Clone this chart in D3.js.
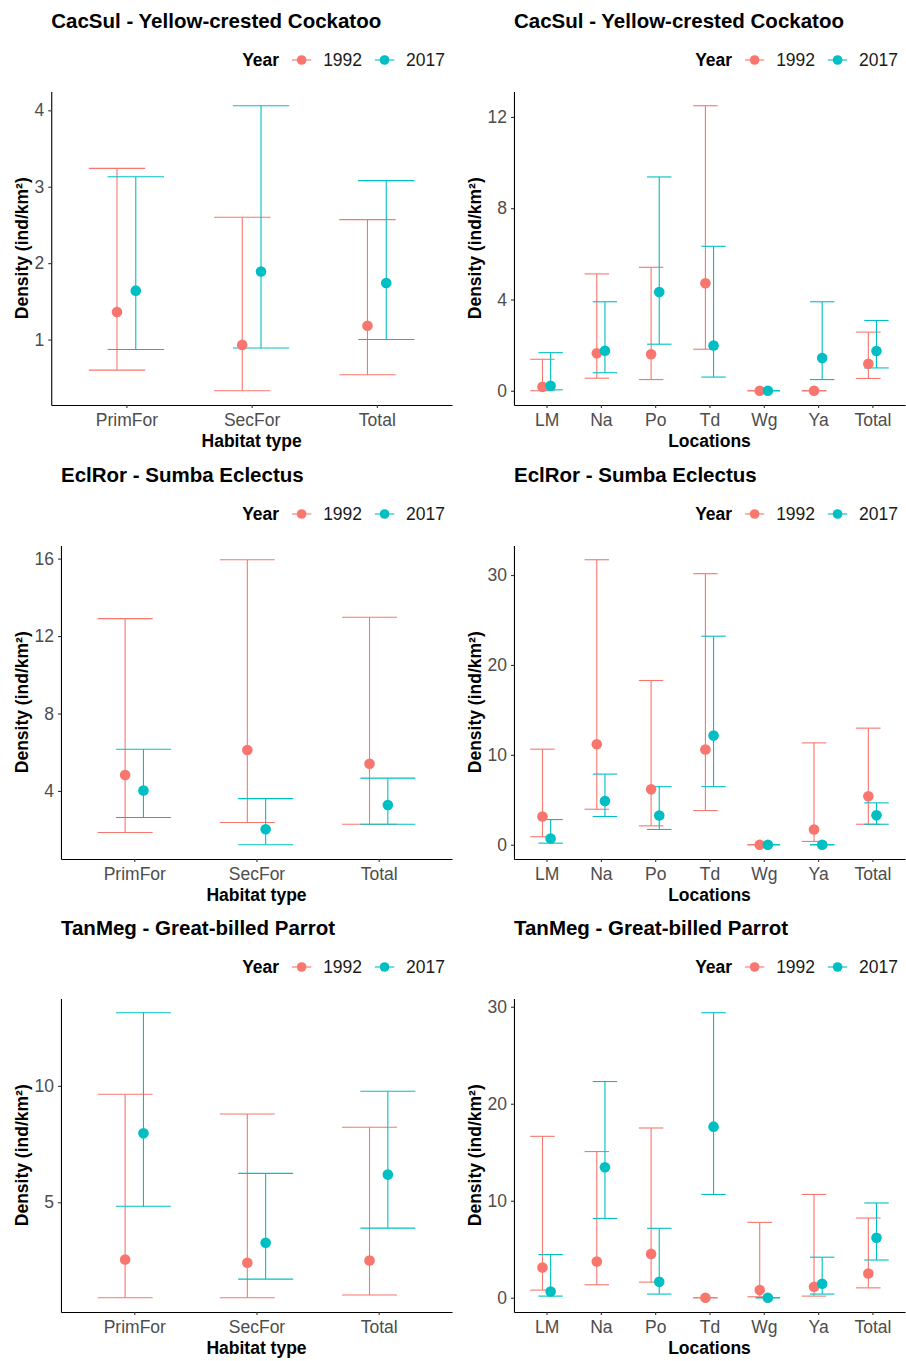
<!DOCTYPE html>
<html>
<head>
<meta charset="utf-8">
<script src="https://cdn.jsdelivr.net/npm/d3@7"></script>
<style>
  body { margin: 0; background: #fff; }
  svg { display: block; }
  text { font-family: "Liberation Sans", Arial, sans-serif; }
</style>
</head>
<body>
<svg id="chart" width="906" height="1361"></svg>
<script>
// ---- Categories -------------------------------------------------------
const habitats  = ["PrimFor", "SecFor", "Total"];
const locations = ["LM", "Na", "Po", "Td", "Wg", "Ya", "Total"];
const years     = ["1992", "2017"];
const yearColors = ["#F8766D", "#00BFC4"];

// ---- CacSul - Yellow-crested Cockatoo ---------------------------------
const cacHabEst92 = [1.36, 0.93, 1.18];
const cacHabLo92  = [0.60, 0.33, 0.54];
const cacHabHi92  = [3.24, 2.60, 2.57];
const cacHabEst17 = [1.64, 1.89, 1.74];
const cacHabLo17  = [0.87, 0.89, 1.00];
const cacHabHi17  = [3.13, 4.06, 3.08];
const cacHabTicks = [1, 2, 3, 4];

const cacLocEst92 = [0.17, 1.64, 1.60, 4.71, 0, 0, 1.18];
const cacLocLo92  = [0.00, 0.55, 0.49, 1.82, 0, 0, 0.54];
const cacLocHi92  = [1.38, 5.12, 5.41, 12.49, 0, 0, 2.57];
const cacLocEst17 = [0.22, 1.75, 4.33, 1.98, 0, 1.43, 1.74];
const cacLocLo17  = [0.04, 0.79, 2.04, 0.60, 0, 0.49, 1.00];
const cacLocHi17  = [1.67, 3.90, 9.37, 6.33, 0, 3.90, 3.08];
const cacLocTicks = [0, 4, 8, 12];

// ---- EclRor - Sumba Eclectus ------------------------------------------
const eclHabEst92 = [4.82, 6.11, 5.40];
const eclHabLo92  = [1.85, 2.37, 2.28];
const eclHabHi92  = [12.90, 15.94, 12.97];
const eclHabEst17 = [4.02, 2.02, 3.27];
const eclHabLo17  = [2.63, 1.22, 2.28];
const eclHabHi17  = [6.15, 3.60, 4.66];
const eclHabTicks = [4, 8, 12, 16];

const eclLocEst92 = [3.14, 11.18, 6.16, 10.59, 0, 1.70, 5.40];
const eclLocLo92  = [0.89, 3.95, 2.10, 3.80, 0, 0.37, 2.28];
const eclLocHi92  = [10.63, 31.70, 18.27, 30.15, 0, 11.33, 12.97];
const eclLocEst17 = [0.70, 4.87, 3.25, 12.14, 0, 0, 3.27];
const eclLocLo17  = [0.18, 3.14, 1.70, 6.46, 0, 0, 2.28];
const eclLocHi17  = [2.80, 7.86, 6.46, 23.20, 0, 0, 4.66];
const eclLocTicks = [0, 10, 20, 30];

// ---- TanMeg - Great-billed Parrot -------------------------------------
const tanHabEst92 = [2.54, 2.40, 2.50];
const tanHabLo92  = [0.90, 0.90, 1.02];
const tanHabHi92  = [9.64, 8.79, 8.22];
const tanHabEst17 = [7.96, 3.26, 6.19];
const tanHabLo17  = [4.83, 1.70, 3.89];
const tanHabHi17  = [13.14, 6.24, 9.77];
const tanHabTicks = [5, 10];

const tanLocEst92 = [3.12, 3.73, 4.52, 0, 0.79, 1.13, 2.50];
const tanLocLo92  = [0.79, 1.34, 1.61, 0, 0.10, 0.17, 1.02];
const tanLocHi92  = [16.64, 15.07, 17.50, 0, 7.77, 10.65, 8.22];
const tanLocEst17 = [0.65, 13.46, 1.64, 17.64, 0, 1.44, 6.19];
const tanLocLo17  = [0.17, 8.18, 0.38, 10.65, 0, 0.38, 3.89];
const tanLocHi17  = [4.45, 22.29, 7.16, 29.38, 0, 4.18, 9.77];
const tanLocTicks = [0, 10, 20, 30];

// ---- Panel layout -----------------------------------------------------
const colX = [0, 453];
const rowY = [0, 454, 907];
const yTitle = "Density (ind/km²)";

const panels = [
  { col: 0, row: 0, title: "CacSul - Yellow-crested Cockatoo", cats: habitats, xTitle: "Habitat type", ticks: cacHabTicks,
    series: [[cacHabEst92, cacHabLo92, cacHabHi92], [cacHabEst17, cacHabLo17, cacHabHi17]] },
  { col: 1, row: 0, title: "CacSul - Yellow-crested Cockatoo", cats: locations, xTitle: "Locations", ticks: cacLocTicks,
    series: [[cacLocEst92, cacLocLo92, cacLocHi92], [cacLocEst17, cacLocLo17, cacLocHi17]] },
  { col: 0, row: 1, title: "EclRor - Sumba Eclectus", cats: habitats, xTitle: "Habitat type", ticks: eclHabTicks,
    series: [[eclHabEst92, eclHabLo92, eclHabHi92], [eclHabEst17, eclHabLo17, eclHabHi17]] },
  { col: 1, row: 1, title: "EclRor - Sumba Eclectus", cats: locations, xTitle: "Locations", ticks: eclLocTicks,
    series: [[eclLocEst92, eclLocLo92, eclLocHi92], [eclLocEst17, eclLocLo17, eclLocHi17]] },
  { col: 0, row: 2, title: "TanMeg - Great-billed Parrot", cats: habitats, xTitle: "Habitat type", ticks: tanHabTicks,
    series: [[tanHabEst92, tanHabLo92, tanHabHi92], [tanHabEst17, tanHabLo17, tanHabHi17]] },
  { col: 1, row: 2, title: "TanMeg - Great-billed Parrot", cats: locations, xTitle: "Locations", ticks: tanLocTicks,
    series: [[tanLocEst92, tanLocLo92, tanLocHi92], [tanLocEst17, tanLocLo17, tanLocHi17]] }
];

const svg = d3.select("#chart");
const FS = 17.5;          // axis / legend text size
const TITLE_FS = 20.5;    // panel title size
const DODGE = 0.075;      // half of the dodge offset, in category steps
const CAP = 0.45;         // error-bar cap width, in category steps
const fmt = d => String(d);

function textWidth(str, size, weight) {
  const t = svg.append("text").attr("font-size", size).attr("font-weight", weight || "normal").text(str);
  const w = t.node().getComputedTextLength();
  t.remove();
  return w;
}

panels.forEach(p => {
  const cx = colX[p.col], cy = rowY[p.row];
  const g = svg.append("g").attr("transform", `translate(${cx},${cy})`);

  const maxTickW = d3.max(p.ticks, t => textWidth(fmt(t), FS));
  const left = 34.5 + maxTickW + 7;
  const right = 452;
  const top = 91.5, bottom = 405;

  // y domain: full data range plus 5% on each side
  const all = p.series.flatMap(s => s.flat());
  const lo = d3.min(all), hi = d3.max(all);
  const pad = (hi - lo) * 0.05;
  const y = d3.scaleLinear().domain([lo - pad, hi + pad]).range([bottom, top]);
  const x = d3.scalePoint().domain(p.cats).range([left, right]).padding(0.6);
  const step = x.step();

  // Title
  g.append("text").attr("x", left).attr("y", 28)
    .attr("font-size", TITLE_FS).attr("font-weight", "bold").attr("fill", "#000")
    .text(p.title);

  // Legend, right aligned
  let lx = 445;
  const leg = g.append("g").attr("transform", "translate(0,66)");
  for (let k = years.length - 1; k >= 0; k--) {
    leg.append("text").attr("x", lx).attr("text-anchor", "end")
      .attr("font-size", FS).attr("fill", "#1a1a1a").text(years[k]);
    lx -= textWidth(years[k], FS);
    const kc = lx - 21.5;
    leg.append("line").attr("x1", kc - 9.7).attr("x2", kc + 9.7).attr("y1", -6).attr("y2", -6)
      .attr("stroke", yearColors[k]).attr("stroke-width", 1.1);
    leg.append("circle").attr("cx", kc).attr("cy", -6).attr("r", 4.8).attr("fill", yearColors[k]);
    lx = kc - 22.5;
  }
  leg.append("text").attr("x", lx).attr("text-anchor", "end")
    .attr("font-size", FS).attr("font-weight", "bold").attr("fill", "#000").text("Year");

  // Axes
  const yAxis = g.append("g").attr("transform", `translate(${left},0)`)
    .call(d3.axisLeft(y).tickValues(p.ticks).tickFormat(fmt).tickSize(3).tickSizeOuter(0).tickPadding(4));
  const xAxis = g.append("g").attr("transform", `translate(0,${bottom})`)
    .call(d3.axisBottom(x).tickSize(3).tickSizeOuter(0).tickPadding(6));
  [yAxis, xAxis].forEach(a => {
    a.select(".domain").attr("stroke", "#000").attr("stroke-width", 1.1);
    a.selectAll(".tick line").attr("stroke", "#333").attr("stroke-width", 1.1);
    a.selectAll(".tick text").attr("font-size", FS).attr("fill", "#4D4D4D")
      .attr("font-family", "\"Liberation Sans\", Arial, sans-serif");
  });

  // Axis titles
  g.append("text").attr("x", (left + right) / 2).attr("y", 446.5).attr("text-anchor", "middle")
    .attr("font-size", FS).attr("font-weight", "bold").attr("fill", "#000").text(p.xTitle);
  g.append("text").attr("transform", `translate(28,${(top + bottom) / 2}) rotate(-90)`)
    .attr("text-anchor", "middle").attr("font-size", FS).attr("font-weight", "bold")
    .attr("fill", "#000").text(yTitle);

  // Error bars, then points
  const plot = g.append("g");
  p.series.forEach((s, k) => {
    const off = (k === 0 ? -DODGE : DODGE) * step;
    const rows = p.cats.map((c, i) => ({ c, est: s[0][i], lo: s[1][i], hi: s[2][i] }));
    const eb = plot.append("g").attr("stroke", yearColors[k]).attr("stroke-width", 1.1).attr("fill", "none");
    rows.forEach(r => {
      const xc = x(r.c) + off;
      eb.append("line").attr("x1", xc).attr("x2", xc).attr("y1", y(r.lo)).attr("y2", y(r.hi));
      eb.append("line").attr("x1", xc - CAP / 2 * step).attr("x2", xc + CAP / 2 * step).attr("y1", y(r.lo)).attr("y2", y(r.lo));
      eb.append("line").attr("x1", xc - CAP / 2 * step).attr("x2", xc + CAP / 2 * step).attr("y1", y(r.hi)).attr("y2", y(r.hi));
    });
  });
  p.series.forEach((s, k) => {
    const off = (k === 0 ? -DODGE : DODGE) * step;
    plot.append("g").selectAll("circle").data(p.cats).join("circle")
      .attr("cx", c => x(c) + off)
      .attr("cy", (c, i) => y(s[0][i]))
      .attr("r", 5.3)
      .attr("fill", yearColors[k]);
  });
});
</script>
</body>
</html>
